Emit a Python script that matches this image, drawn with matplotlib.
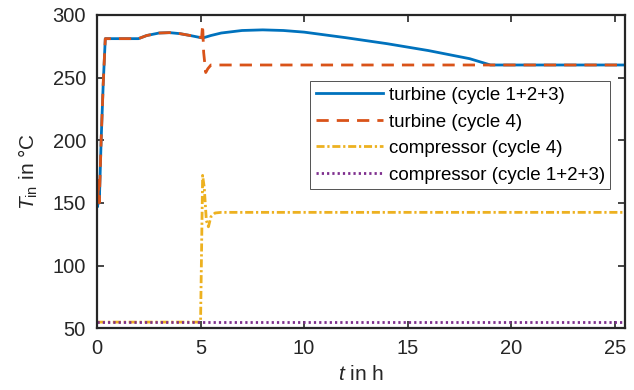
import matplotlib
matplotlib.use('Agg')
import matplotlib.pyplot as plt

plt.rcParams['font.family'] = ['Liberation Sans', 'DejaVu Sans']
plt.rcParams['mathtext.fontset'] = 'custom'
plt.rcParams['mathtext.rm'] = 'Liberation Sans'
plt.rcParams['mathtext.it'] = 'Liberation Sans:italic'

C_BLUE = '#0072BD'
C_ORANGE = '#D95319'
C_YELLOW = '#EDB120'
C_PURPLE = '#7E2F8E'
C_AX = '#262626'

# turbine (cycle 1+2+3)
t_turb = [0, 0.03, 0.07, 0.11, 0.2, 0.3, 0.4, 2.0, 2.4, 3.0, 3.5, 4.0, 4.5, 5.1,
          5.5, 6.0, 7.0, 8.0, 9.0, 10.0, 12.0, 14.0, 16.0, 18.0, 19.0, 25.5]
T_turb = [160, 147, 168, 150, 200, 245, 281, 281, 283.5, 285.5, 285.8, 285, 283.5, 281.5,
          283.5, 285.5, 287.5, 288, 287.5, 286.2, 281.8, 277, 271.5, 265, 260, 260]

# turbine (cycle 4)
t_turb4 = [0, 0.03, 0.07, 0.11, 0.2, 0.3, 0.4, 2.0, 2.4, 3.0, 3.5, 4.0, 4.5, 5.05,
           5.1, 5.15, 5.25, 5.35, 5.5, 25.5]
T_turb4 = [160, 147, 168, 150, 200, 245, 281, 281, 283.5, 285.5, 285.8, 285, 283.5, 281.8,
           292, 270, 254, 257, 260, 260]

# compressor (cycle 4)
t_comp4 = [0, 5.0, 5.1, 5.18, 5.28, 5.38, 5.5, 5.7, 6.0, 25.5]
T_comp4 = [55, 55, 172, 162, 136, 131, 139, 142, 142.5, 142.5]

# compressor (cycle 1+2+3)
t_comp = [0, 25.5]
T_comp = [55, 55]

fig = plt.figure(figsize=(6.34, 3.9), dpi=100)
ax = fig.add_axes([0.153, 0.158, 0.833, 0.804])

lw = 2.0
ax.plot(t_turb, T_turb, color=C_BLUE, lw=lw, label='turbine (cycle 1+2+3)')
ax.plot(t_turb4, T_turb4, color=C_ORANGE, lw=lw, ls=(0, (4.4, 2.9)),
        label='turbine (cycle 4)')
ax.plot(t_comp4, T_comp4, color=C_YELLOW, lw=lw, ls=(0, (2.9, 1.0, 0.8, 1.0)),
        label='compressor (cycle 4)')
ax.plot(t_comp, T_comp, color=C_PURPLE, lw=lw, ls=(0, (0.8, 1.1)),
        label='compressor (cycle 1+2+3)')

ax.set_xlim(0, 25.5)
ax.set_ylim(50, 300)
ax.set_xticks([0, 5, 10, 15, 20, 25])
ax.set_yticks([50, 100, 150, 200, 250, 300])
ax.tick_params(direction='in', length=5, width=1.2, top=True, right=True,
               labelsize=14.5, colors=C_AX)
ax.tick_params(axis='x', pad=8)
ax.tick_params(axis='y', pad=8)
for s in ax.spines.values():
    s.set_linewidth(1.6)
    s.set_color(C_AX)

ax.set_xlabel(r'$t$ in h', fontsize=15, color=C_AX, labelpad=5)
ax.set_ylabel(r'$T_{\rm in}$ in °C', fontsize=15, color=C_AX, labelpad=9)

leg = ax.legend(loc='upper right', bbox_to_anchor=(0.972, 0.788), fontsize=13.5,
                frameon=True, fancybox=False, handlelength=3.6, handletextpad=0.28,
                borderpad=0.3, labelspacing=0.5, borderaxespad=0)
leg.get_frame().set_edgecolor(C_AX)
leg.get_frame().set_linewidth(0.7)

fig.savefig('out.png', dpi=100, facecolor='white')
